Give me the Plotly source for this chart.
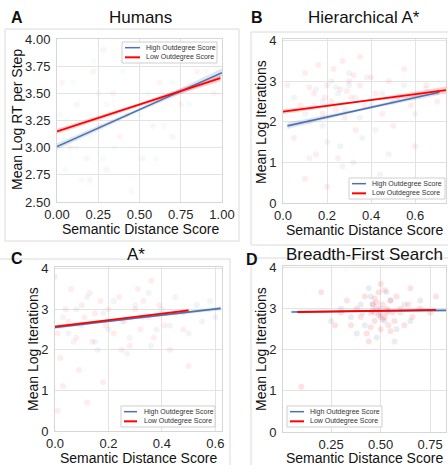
import plotly.graph_objects as go

W, H = 448, 465
FONT = "Liberation Sans, Arial, sans-serif"
BLUE = "#4c72b0"
RED = "#ff0000"

# ---------------- data ----------------
# Panel A: Humans
a_hi_x = [0.02, 0.05, 0.1, 0.15, 0.2, 0.22, 0.28, 0.3, 0.35, 0.4, 0.45, 0.5, 0.55, 0.6, 0.65, 0.7, 0.8, 0.9, 0.25, 0.12]
a_hi_y = [3.3, 2.8, 3.6, 2.7, 3.1, 3.8, 2.9, 3.4, 3.0, 3.7, 2.6, 3.3, 3.5, 2.9, 3.2, 3.6, 3.4, 3.7, 3.5, 3.0]
a_lo_x = [0.03, 0.08, 0.12, 0.18, 0.22, 0.26, 0.3, 0.34, 0.38, 0.42, 0.48, 0.52, 0.58, 0.62, 0.7, 0.75, 0.85, 0.95, 0.2, 0.28]
a_lo_y = [3.6, 3.0, 3.4, 2.9, 3.7, 3.2, 2.8, 3.5, 3.1, 3.3, 3.8, 2.9, 3.2, 3.6, 3.1, 3.4, 3.7, 3.5, 2.7, 3.9]
a_hi_line_x = [0.0, 0.5, 1.0]
a_hi_line_y = [3.01, 3.35, 3.69]
a_hi_lo = [2.98, 3.335, 3.65]
a_hi_up = [3.04, 3.365, 3.73]
a_lo_line_x = [0.0, 0.5, 0.99]
a_lo_line_y = [3.15, 3.395, 3.64]
a_lo_lo = [3.125, 3.38, 3.61]
a_lo_up = [3.175, 3.41, 3.67]

# Panel B: Hierarchical A*
b_hi_x = [0.05, 0.1, 0.12, 0.15, 0.18, 0.2, 0.22, 0.25, 0.26, 0.28, 0.3, 0.32, 0.33, 0.35, 0.38, 0.4, 0.42, 0.45, 0.48, 0.5,
          0.55, 0.6, 0.65, 0.24, 0.3, 0.18, 0.36, 0.27, 0.44, 0.14]
b_hi_y = [2.6, 2.2, 1.1, 2.8, 2.5, 1.5, 3.0, 2.7, 1.4, 2.3, 2.9, 1.0, 2.6, 2.1, 3.1, 2.4, 1.8, 2.7, 1.2, 2.5,
          2.9, 2.2, 2.8, 2.85, 3.2, 1.9, 1.6, 0.9, 0.7, 2.4]
b_lo_x = [0.02, 0.05, 0.08, 0.1, 0.12, 0.14, 0.16, 0.18, 0.2, 0.22, 0.23, 0.25, 0.26, 0.28, 0.3, 0.31, 0.33, 0.35, 0.37, 0.4,
          0.42, 0.45, 0.48, 0.5, 0.52, 0.55, 0.58, 0.6, 0.65, 0.7, 0.15, 0.1, 0.2, 0.35, 0.27, 0.19, 0.24, 0.29, 0.32, 0.12]
b_lo_y = [2.9, 1.6, 2.4, 3.2, 2.0, 2.7, 3.4, 2.2, 2.9, 2.5, 3.3, 1.1, 2.8, 2.1, 3.0, 2.6, 1.8, 2.9, 2.4, 3.1,
          2.7, 2.2, 3.0, 1.9, 2.6, 3.3, 2.4, 1.4, 2.9, 2.5, 1.2, 0.6, 0.4, 3.6, 3.5, 2.6, 2.3, 2.75, 3.15, 2.85]
b_hi_line_x = [0.02, 0.36, 0.71]
b_hi_line_y = [1.9, 2.31, 2.73]
b_hi_lo = [1.82, 2.28, 2.66]
b_hi_up = [1.98, 2.34, 2.80]
b_lo_line_x = [0.0, 0.37, 0.74]
b_lo_line_y = [2.25, 2.515, 2.78]
b_lo_lo = [2.19, 2.495, 2.69]
b_lo_up = [2.31, 2.535, 2.87]

# Panel C: A*
c_hi_x = [0.03, 0.05, 0.08, 0.1, 0.12, 0.15, 0.18, 0.2, 0.22, 0.25, 0.28, 0.3, 0.33, 0.35, 0.38, 0.4, 0.43, 0.45, 0.48, 0.5,
          0.53, 0.55, 0.58, 0.6, 0.16, 0.27, 0.36, 0.07]
c_hi_y = [2.8, 2.4, 3.0, 2.6, 3.3, 2.2, 2.9, 2.5, 3.2, 2.7, 2.3, 3.1, 2.8, 3.4, 2.5, 3.0, 2.6, 3.3, 2.9, 2.4,
          3.1, 2.7, 3.2, 2.8, 2.0, 1.9, 2.1, 2.2]
c_lo_x = [0.0, 0.01, 0.02, 0.03, 0.04, 0.05, 0.06, 0.08, 0.1, 0.11, 0.13, 0.14, 0.15, 0.17, 0.19, 0.2, 0.22, 0.24, 0.26, 0.28,
          0.3, 0.31, 0.32, 0.33, 0.35, 0.37, 0.39, 0.41, 0.43, 0.45, 0.48, 0.5, 0.09, 0.18, 0.25, 0.36, 0.12, 0.01]
c_lo_y = [3.8, 2.4, 1.8, 1.1, 3.0, 2.7, 3.5, 2.3, 3.1, 2.8, 3.4, 2.2, 2.9, 3.2, 2.6, 3.0, 2.4, 3.3, 2.7, 2.1,
          3.0, 3.5, 2.5, 3.2, 2.8, 2.3, 3.1, 2.6, 2.0, 2.9, 2.5, 1.6, 1.5, 1.2, 2.0, 3.7, 0.7, 0.5]
c_hi_line_x = [0.0, 0.31, 0.62]
c_hi_line_y = [2.55, 2.785, 3.02]
c_hi_lo = [2.51, 2.77, 2.97]
c_hi_up = [2.59, 2.80, 3.07]
c_lo_line_x = [0.0, 0.25, 0.5]
c_lo_line_y = [2.57, 2.77, 2.97]
c_lo_lo = [2.53, 2.755, 2.93]
c_lo_up = [2.61, 2.785, 3.01]

# Panel D: Breadth-First Search
d_hi_x = [0.35, 0.4, 0.42, 0.45, 0.47, 0.5, 0.52, 0.55, 0.58, 0.6, 0.38, 0.44, 0.48, 0.53, 0.62, 0.3, 0.65, 0.5, 0.46, 0.54,
          0.7, 0.25, 0.57, 0.41]
d_hi_y = [2.8, 3.1, 2.6, 3.3, 2.9, 3.0, 2.7, 3.2, 2.5, 2.9, 2.4, 3.5, 2.3, 3.4, 3.1, 3.0, 2.7, 2.8, 3.1, 2.95,
          3.2, 2.7, 2.2, 2.9]
d_lo_x = [0.3, 0.33, 0.35, 0.38, 0.4, 0.42, 0.43, 0.45, 0.46, 0.47, 0.48, 0.49, 0.5, 0.5, 0.51, 0.52, 0.53, 0.54, 0.55, 0.56,
          0.57, 0.58, 0.6, 0.62, 0.64, 0.66, 0.7, 0.75, 0.27, 0.44, 0.5, 0.47, 0.52, 0.45, 0.55, 0.49, 0.51, 0.48, 0.53, 0.46,
          0.2, 0.1, 0.65, 0.78]
d_lo_y = [2.9, 3.2, 2.6, 3.0, 2.8, 3.3, 2.4, 2.9, 3.1, 2.7, 3.0, 3.4, 2.9, 2.5, 3.1, 2.8, 3.0, 2.6, 3.2, 2.9,
          2.7, 3.3, 3.0, 2.6, 3.1, 2.8, 3.0, 2.9, 2.6, 2.2, 3.6, 3.25, 3.45, 2.55, 2.45, 2.85, 2.75, 3.15, 2.9, 2.95,
          3.4, 1.1, 3.5, 3.3]
d_hi_line_x = [0.05, 0.44, 0.83]
d_hi_line_y = [2.92, 2.94, 2.96]
d_hi_lo = [2.89, 2.93, 2.93]
d_hi_up = [2.95, 2.95, 2.99]
d_lo_line_x = [0.08, 0.43, 0.78]
d_lo_line_y = [2.92, 2.945, 2.97]
d_lo_lo = [2.90, 2.94, 2.95]
d_lo_up = [2.94, 2.95, 2.99]

LEG_HI = "High Outdegree Score"
LEG_LO = "Low Outdegree Score"

# ---------------- layout helpers ----------------
def px_x(p):
    return p / W

def px_y(p):
    return 1 - p / H

panels = [
    dict(sfx="", xd=(57, 222), yd=(39, 202), xr=[0, 1.0], yr=[2.5, 4.0],
         xt=[0, 0.25, 0.5, 0.75, 1.0], xl=["0.00", "0.25", "0.50", "0.75", "1.00"],
         yt=[2.5, 2.75, 3.0, 3.25, 3.5, 3.75, 4.0], yl=["2.50", "2.75", "3.00", "3.25", "3.50", "3.75", "4.00"],
         leg=(122, 42, 217, 63), legline=(125, 140), legtext=145),
    dict(sfx="2", xd=(283, 446), yd=(39, 203), xr=[0, 0.74], yr=[0, 4.04],
         xt=[0, 0.2, 0.4, 0.6], xl=["0.0", "0.2", "0.4", "0.6"],
         yt=[0, 1, 2, 3, 4], yl=["0", "1", "2", "3", "4"],
         leg=(349, 178, 445, 199), legline=(352, 366), legtext=371),
    dict(sfx="3", xd=(55, 222), yd=(267, 431), xr=[0, 0.625], yr=[0, 4.04],
         xt=[0, 0.2, 0.4, 0.6], xl=["0.0", "0.2", "0.4", "0.6"],
         yt=[0, 1, 2, 3, 4], yl=["0", "1", "2", "3", "4"],
         leg=(121, 406, 215, 427), legline=(124, 137), legtext=143),
    dict(sfx="4", xd=(283, 446), yd=(266, 432), xr=[0.0075, 0.83], yr=[0, 4.04],
         xt=[0.25, 0.5, 0.75], xl=["0.25", "0.50", "0.75"],
         yt=[0, 1, 2, 3, 4], yl=["0", "1", "2", "3", "4"],
         leg=(287, 406, 382, 427), legline=(290, 304), legtext=309),
]

fig = go.Figure()

panel_data = [
    (a_hi_x, a_hi_y, a_lo_x, a_lo_y, a_hi_line_x, a_hi_line_y, a_hi_lo, a_hi_up,
     a_lo_line_x, a_lo_line_y, a_lo_lo, a_lo_up, "#4cc9c9", 0.05),
    (b_hi_x, b_hi_y, b_lo_x, b_lo_y, b_hi_line_x, b_hi_line_y, b_hi_lo, b_hi_up,
     b_lo_line_x, b_lo_line_y, b_lo_lo, b_lo_up, BLUE, 0.08),
    (c_hi_x, c_hi_y, c_lo_x, c_lo_y, c_hi_line_x, c_hi_line_y, c_hi_lo, c_hi_up,
     c_lo_line_x, c_lo_line_y, c_lo_lo, c_lo_up, BLUE, 0.08),
    (d_hi_x, d_hi_y, d_lo_x, d_lo_y, d_hi_line_x, d_hi_line_y, d_hi_lo, d_hi_up,
     d_lo_line_x, d_lo_line_y, d_lo_lo, d_lo_up, BLUE, 0.13),
]

def rgba(hexc, a):
    hexc = hexc.lstrip("#")
    r, g, b = int(hexc[0:2], 16), int(hexc[2:4], 16), int(hexc[4:6], 16)
    return f"rgba({r},{g},{b},{a})"

for p, d in zip(panels, panel_data):
    (hx, hy, lx, ly, hlx, hly, hlo, hup, llx, lly, llo, lup, dotc, alpha) = d
    xa = "x" + p["sfx"]
    ya = "y" + p["sfx"]
    fig.add_trace(go.Scatter(x=hx, y=hy, mode="markers", xaxis=xa, yaxis=ya, showlegend=False,
                             marker=dict(size=6, color=rgba(dotc, alpha), line=dict(width=0)), hoverinfo="skip"))
    fig.add_trace(go.Scatter(x=lx, y=ly, mode="markers", xaxis=xa, yaxis=ya, showlegend=False,
                             marker=dict(size=6, color=rgba(RED, alpha * 0.9), line=dict(width=0)), hoverinfo="skip"))
    for bx, blo, bup, col in [(hlx, hlo, hup, BLUE), (llx, llo, lup, RED)]:
        fig.add_trace(go.Scatter(x=bx + bx[::-1], y=bup + blo[::-1], mode="lines", fill="toself",
                                 fillcolor=rgba(col, 0.18), line=dict(width=0), xaxis=xa, yaxis=ya,
                                 showlegend=False, hoverinfo="skip"))
    fig.add_trace(go.Scatter(x=hlx, y=hly, mode="lines", line=dict(color=BLUE, width=1.6),
                             xaxis=xa, yaxis=ya, name=LEG_HI, showlegend=False))
    fig.add_trace(go.Scatter(x=llx, y=lly, mode="lines", line=dict(color=RED, width=1.8),
                             xaxis=xa, yaxis=ya, name=LEG_LO, showlegend=False))

layout = dict(width=W, height=H, margin=dict(l=0, r=0, t=0, b=0, autoexpand=False),
              paper_bgcolor="white", plot_bgcolor="white", template="none",
              font=dict(family=FONT, color="#262626"), showlegend=False)

for p in panels:
    common = dict(showgrid=True, gridcolor="#e3e3e3", gridwidth=1, zeroline=False,
                  showline=True, linecolor="#d6d6d6", linewidth=1, mirror=True,
                  tickcolor="rgba(0,0,0,0)", automargin=False,
                  tickfont=dict(size=13, family=FONT, color="#262626"))
    ax = dict(common, domain=[px_x(p["xd"][0]), px_x(p["xd"][1])], range=p["xr"], ticks="",
              tickmode="array", tickvals=p["xt"], ticktext=p["xl"], anchor="y" + p["sfx"])
    ay = dict(common, domain=[px_y(p["yd"][1]), px_y(p["yd"][0])], range=p["yr"], ticks="outside", ticklen=3,
              tickmode="array", tickvals=p["yt"], ticktext=p["yl"], anchor="x" + p["sfx"])
    layout["xaxis" + p["sfx"]] = ax
    layout["yaxis" + p["sfx"]] = ay

fig.update_layout(**layout)

# panel frames
for (x0, y0, x1, y1) in [(5, 29, 239, 241), (251, 32, 452, 245), (-3, 259, 230, 470), (251, 258, 452, 470)]:
    fig.add_shape(type="rect", xref="paper", yref="paper", line=dict(color="#dadada", width=1),
                  fillcolor="rgba(0,0,0,0)", layer="below",
                  x0=px_x(x0), x1=px_x(x1), y0=px_y(y1), y1=px_y(y0))

def ann(text, x, y, size, bold=False, angle=0, xanchor="center", color="#111111"):
    fig.add_annotation(text=("<b>%s</b>" % text) if bold else text, x=px_x(x), y=px_y(y),
                       xref="paper", yref="paper", showarrow=False, textangle=angle,
                       xanchor=xanchor, yanchor="middle", borderpad=0,
                       font=dict(size=size, family=FONT, color=color), bgcolor="rgba(0,0,0,0)")

# legends (drawn as boxes with line samples and text)
for p in panels:
    bx0, by0, bx1, by1 = p["leg"]
    fig.add_shape(type="rect", xref="paper", yref="paper", layer="above",
                  x0=px_x(bx0), x1=px_x(bx1), y0=px_y(by1), y1=px_y(by0),
                  line=dict(color="#cfcfcf", width=1), fillcolor="white")
    rows = [(by0 + (by1 - by0) * 0.27, BLUE, 1.5, LEG_HI), (by0 + (by1 - by0) * 0.73, RED, 2, LEG_LO)]
    for ry, col, lw, label in rows:
        fig.add_shape(type="line", xref="paper", yref="paper", layer="above",
                      x0=px_x(p["legline"][0]), x1=px_x(p["legline"][1]), y0=px_y(ry), y1=px_y(ry),
                      line=dict(color=col, width=lw))
        ann(label, p["legtext"], ry, 7, xanchor="left", color="#333333")

# titles
ann("Humans", 140, 18, 17)
ann("Hierarchical A*", 364, 17, 17)
ann("A*", 136, 254, 17)
ann("Breadth-First Search", 364, 254, 17)
# panel letters
ann("A", 17, 17, 16, bold=True)
ann("B", 257, 17, 16, bold=True)
ann("C", 17, 258, 16, bold=True)
ann("D", 252, 259, 16, bold=True)
# axis labels
ann("Semantic Distance Score", 140, 229, 14)
ann("Semantic Distance Score", 364, 230, 14)
ann("Semantic Distance Score", 138, 458, 14)
ann("Semantic Distance Score", 364, 458, 14)
ann("Mean Log RT per Step", 17, 120, 14, angle=-90)
ann("Mean Log Iterations", 261, 122, 14, angle=-90)
ann("Mean Log Iterations", 33, 349, 14, angle=-90)
ann("Mean Log Iterations", 261, 349, 14, angle=-90)

fig.write_html("out.html", config={"displayModeBar": False},
               post_script="document.body.style.margin='0';document.body.style.padding='0';document.body.style.overflow='hidden';")
